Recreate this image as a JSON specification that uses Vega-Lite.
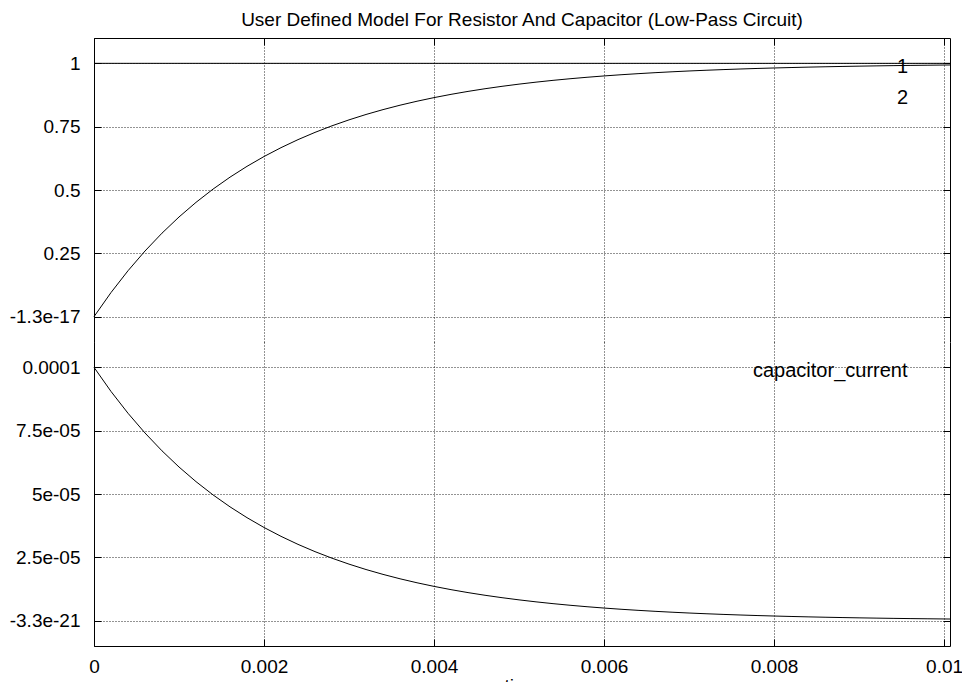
{
  "$schema": "https://vega.github.io/schema/vega-lite/v6.json",
  "padding": {"left": 9, "top": 10, "right": 0, "bottom": 0},
  "data": {"values": [
    {"t": 0, "vs": 1, "vc": 0, "ic": 0.0001},
    {"t": 0.0002, "vs": 1, "vc": 0.095163, "ic": 9.04837e-5},
    {"t": 0.0004, "vs": 1, "vc": 0.181269, "ic": 8.18731e-5},
    {"t": 0.0006, "vs": 1, "vc": 0.259182, "ic": 7.40818e-5},
    {"t": 0.0008, "vs": 1, "vc": 0.32968, "ic": 6.7032e-5},
    {"t": 0.001, "vs": 1, "vc": 0.393469, "ic": 6.06531e-5},
    {"t": 0.0012, "vs": 1, "vc": 0.451188, "ic": 5.48812e-5},
    {"t": 0.0014, "vs": 1, "vc": 0.503415, "ic": 4.96585e-5},
    {"t": 0.0016, "vs": 1, "vc": 0.550671, "ic": 4.49329e-5},
    {"t": 0.0018, "vs": 1, "vc": 0.59343, "ic": 4.0657e-5},
    {"t": 0.002, "vs": 1, "vc": 0.632121, "ic": 3.67879e-5},
    {"t": 0.0022, "vs": 1, "vc": 0.667129, "ic": 3.32871e-5},
    {"t": 0.0024, "vs": 1, "vc": 0.698806, "ic": 3.01194e-5},
    {"t": 0.0026, "vs": 1, "vc": 0.727468, "ic": 2.72532e-5},
    {"t": 0.0028, "vs": 1, "vc": 0.753403, "ic": 2.46597e-5},
    {"t": 0.003, "vs": 1, "vc": 0.77687, "ic": 2.2313e-5},
    {"t": 0.0032, "vs": 1, "vc": 0.798103, "ic": 2.01897e-5},
    {"t": 0.0034, "vs": 1, "vc": 0.817316, "ic": 1.82684e-5},
    {"t": 0.0036, "vs": 1, "vc": 0.834701, "ic": 1.65299e-5},
    {"t": 0.0038, "vs": 1, "vc": 0.850431, "ic": 1.49569e-5},
    {"t": 0.004, "vs": 1, "vc": 0.864665, "ic": 1.35335e-5},
    {"t": 0.0042, "vs": 1, "vc": 0.877544, "ic": 1.22456e-5},
    {"t": 0.0044, "vs": 1, "vc": 0.889197, "ic": 1.10803e-5},
    {"t": 0.0046, "vs": 1, "vc": 0.899741, "ic": 1.00259e-5},
    {"t": 0.0048, "vs": 1, "vc": 0.909282, "ic": 9.0718e-6},
    {"t": 0.005, "vs": 1, "vc": 0.917915, "ic": 8.2085e-6},
    {"t": 0.0052, "vs": 1, "vc": 0.925726, "ic": 7.4274e-6},
    {"t": 0.0054, "vs": 1, "vc": 0.932794, "ic": 6.7206e-6},
    {"t": 0.0056, "vs": 1, "vc": 0.93919, "ic": 6.081e-6},
    {"t": 0.0058, "vs": 1, "vc": 0.944977, "ic": 5.5023e-6},
    {"t": 0.006, "vs": 1, "vc": 0.950213, "ic": 4.9787e-6},
    {"t": 0.0062, "vs": 1, "vc": 0.954951, "ic": 4.5049e-6},
    {"t": 0.0064, "vs": 1, "vc": 0.959238, "ic": 4.0762e-6},
    {"t": 0.0066, "vs": 1, "vc": 0.963117, "ic": 3.6883e-6},
    {"t": 0.0068, "vs": 1, "vc": 0.966627, "ic": 3.3373e-6},
    {"t": 0.007, "vs": 1, "vc": 0.969803, "ic": 3.0197e-6},
    {"t": 0.0072, "vs": 1, "vc": 0.972676, "ic": 2.7324e-6},
    {"t": 0.0074, "vs": 1, "vc": 0.975276, "ic": 2.4724e-6},
    {"t": 0.0076, "vs": 1, "vc": 0.977629, "ic": 2.2371e-6},
    {"t": 0.0078, "vs": 1, "vc": 0.979758, "ic": 2.0242e-6},
    {"t": 0.008, "vs": 1, "vc": 0.981684, "ic": 1.8316e-6},
    {"t": 0.0082, "vs": 1, "vc": 0.983427, "ic": 1.6573e-6},
    {"t": 0.0084, "vs": 1, "vc": 0.985004, "ic": 1.4996e-6},
    {"t": 0.0086, "vs": 1, "vc": 0.986431, "ic": 1.3569e-6},
    {"t": 0.0088, "vs": 1, "vc": 0.987723, "ic": 1.2277e-6},
    {"t": 0.009, "vs": 1, "vc": 0.988891, "ic": 1.1109e-6},
    {"t": 0.0092, "vs": 1, "vc": 0.989948, "ic": 1.0052e-6},
    {"t": 0.0094, "vs": 1, "vc": 0.990905, "ic": 9.095e-7},
    {"t": 0.0096, "vs": 1, "vc": 0.99177, "ic": 8.23e-7},
    {"t": 0.0098, "vs": 1, "vc": 0.992553, "ic": 7.447e-7},
    {"t": 0.01, "vs": 1, "vc": 0.993262, "ic": 6.738e-7},
    {"t": 0.01007, "vs": 1, "vc": 0.993494, "ic": 6.506e-7}
  ]},
  "spacing": 0,
  "bounds": "flush",
  "resolve": {"scale": {"y": "independent", "color": "independent"}},
  "vconcat": [
    {
      "width": 856,
      "height": 304,
      "title": {"text": "User Defined Model For Resistor And Capacitor (Low-Pass Circuit)", "frame": "group", "anchor": "middle", "offset": 8, "fontSize": 19, "font": "Liberation Sans", "fontWeight": "normal", "color": "black"},
      "layer": [
        {
          "mark": {"type": "line", "strokeWidth": 1},
          "encoding": {
            "x": {"field": "t", "type": "quantitative", "scale": {"domain": [0, 0.01007], "nice": false, "zero": false},
                  "axis": {"orient": "top", "labels": false, "title": null, "values": [0, 0.002, 0.004, 0.006, 0.008, 0.01]}},
            "y": {"field": "vs", "type": "quantitative", "scale": {"domain": [-0.1, 1.1], "nice": false, "zero": false},
                  "axis": {"orient": "left", "title": null, "values": [0, 0.25, 0.5, 0.75, 1], "labelExpr": "datum.value === 0 ? '-1.3e-17' : '' + datum.value"}},
            "color": {"datum": "1", "type": "nominal", "scale": {"domain": ["1", "2"], "range": ["black", "black"]},
                      "legend": {"orient": "none", "legendX": 783, "legendY": 19, "title": null, "symbolSize": 0, "symbolOpacity": 0, "symbolStrokeWidth": 0, "labelOffset": 0, "rowPadding": 11, "padding": 0}}
          }
        },
        {
          "mark": {"type": "line", "strokeWidth": 1},
          "encoding": {
            "x": {"field": "t", "type": "quantitative", "scale": {"domain": [0, 0.01007], "nice": false, "zero": false},
                  "axis": {"orient": "top", "labels": false, "title": null, "values": [0, 0.002, 0.004, 0.006, 0.008, 0.01]}},
            "y": {"field": "vc", "type": "quantitative", "scale": {"domain": [-0.1, 1.1], "nice": false, "zero": false},
                  "axis": {"orient": "right", "title": null, "labels": false, "grid": false, "values": [0, 0.25, 0.5, 0.75, 1]}},
            "color": {"datum": "2", "type": "nominal", "scale": {"domain": ["1", "2"], "range": ["black", "black"]},
                      "legend": {"orient": "none", "legendX": 783, "legendY": 19, "title": null, "symbolSize": 0, "symbolOpacity": 0, "symbolStrokeWidth": 0, "labelOffset": 0, "rowPadding": 11, "padding": 0}}
          }
        }
      ],
      "resolve": {"axis": {"y": "independent"}}
    },
    {
      "width": 856,
      "height": 304,
      "layer": [
        {
          "mark": {"type": "line", "strokeWidth": 1},
          "encoding": {
            "x": {"field": "t", "type": "quantitative", "scale": {"domain": [0, 0.01007], "nice": false, "zero": false},
                  "axis": {"orient": "bottom", "title": "time", "titlePadding": 0, "values": [0, 0.002, 0.004, 0.006, 0.008, 0.01], "labelExpr": "'' + datum.value"}},
            "y": {"field": "ic", "type": "quantitative", "scale": {"domain": [-0.00001, 0.00011], "nice": false, "zero": false},
                  "axis": {"orient": "left", "title": null, "values": [0, 0.000025, 0.00005, 0.000075, 0.0001],
                           "labelExpr": "datum.value < 1e-6 ? '-3.3e-21' : datum.value < 3e-5 ? '2.5e-05' : datum.value < 6e-5 ? '5e-05' : datum.value < 8e-5 ? '7.5e-05' : '0.0001'"}},
            "color": {"datum": "capacitor_current", "type": "nominal", "scale": {"range": ["black"]},
                      "legend": {"orient": "none", "legendX": 639, "legendY": 19, "title": null, "symbolSize": 0, "symbolOpacity": 0, "symbolStrokeWidth": 0, "labelOffset": 0, "padding": 0}}
          }
        },
        {
          "mark": {"type": "line", "strokeWidth": 1, "opacity": 0},
          "encoding": {
            "x": {"field": "t", "type": "quantitative", "scale": {"domain": [0, 0.01007], "nice": false, "zero": false},
                  "axis": {"orient": "bottom", "title": "time", "titlePadding": 0, "values": [0, 0.002, 0.004, 0.006, 0.008, 0.01], "labelExpr": "'' + datum.value"}},
            "y": {"field": "ic", "type": "quantitative", "scale": {"domain": [-0.00001, 0.00011], "nice": false, "zero": false},
                  "axis": {"orient": "right", "title": null, "labels": false, "grid": false, "values": [0, 0.000025, 0.00005, 0.000075, 0.0001]}}
          }
        }
      ],
      "resolve": {"axis": {"y": "independent"}}
    }
  ],
  "config": {
    "font": "Liberation Sans",
    "view": {"stroke": null},
    "axis": {
      "domainColor": "black", "domainWidth": 1,
      "tickColor": "black", "tickWidth": 1, "tickSize": -7,
      "labelColor": "black", "labelFont": "Liberation Sans", "labelFontSize": 19, "labelPadding": 21,
      "labelFlush": false, "labelOverlap": false,
      "titleFont": "Liberation Sans", "titleFontSize": 19, "titleFontWeight": "normal", "titleColor": "black",
      "grid": true, "gridColor": "black", "gridDash": [1, 2], "gridOpacity": 0.85, "gridWidth": 1
    },
    "axisX": {"labelPadding": 18},
    "legend": {"labelFont": "Liberation Sans", "labelFontSize": 20, "labelColor": "black"}
  }
}
